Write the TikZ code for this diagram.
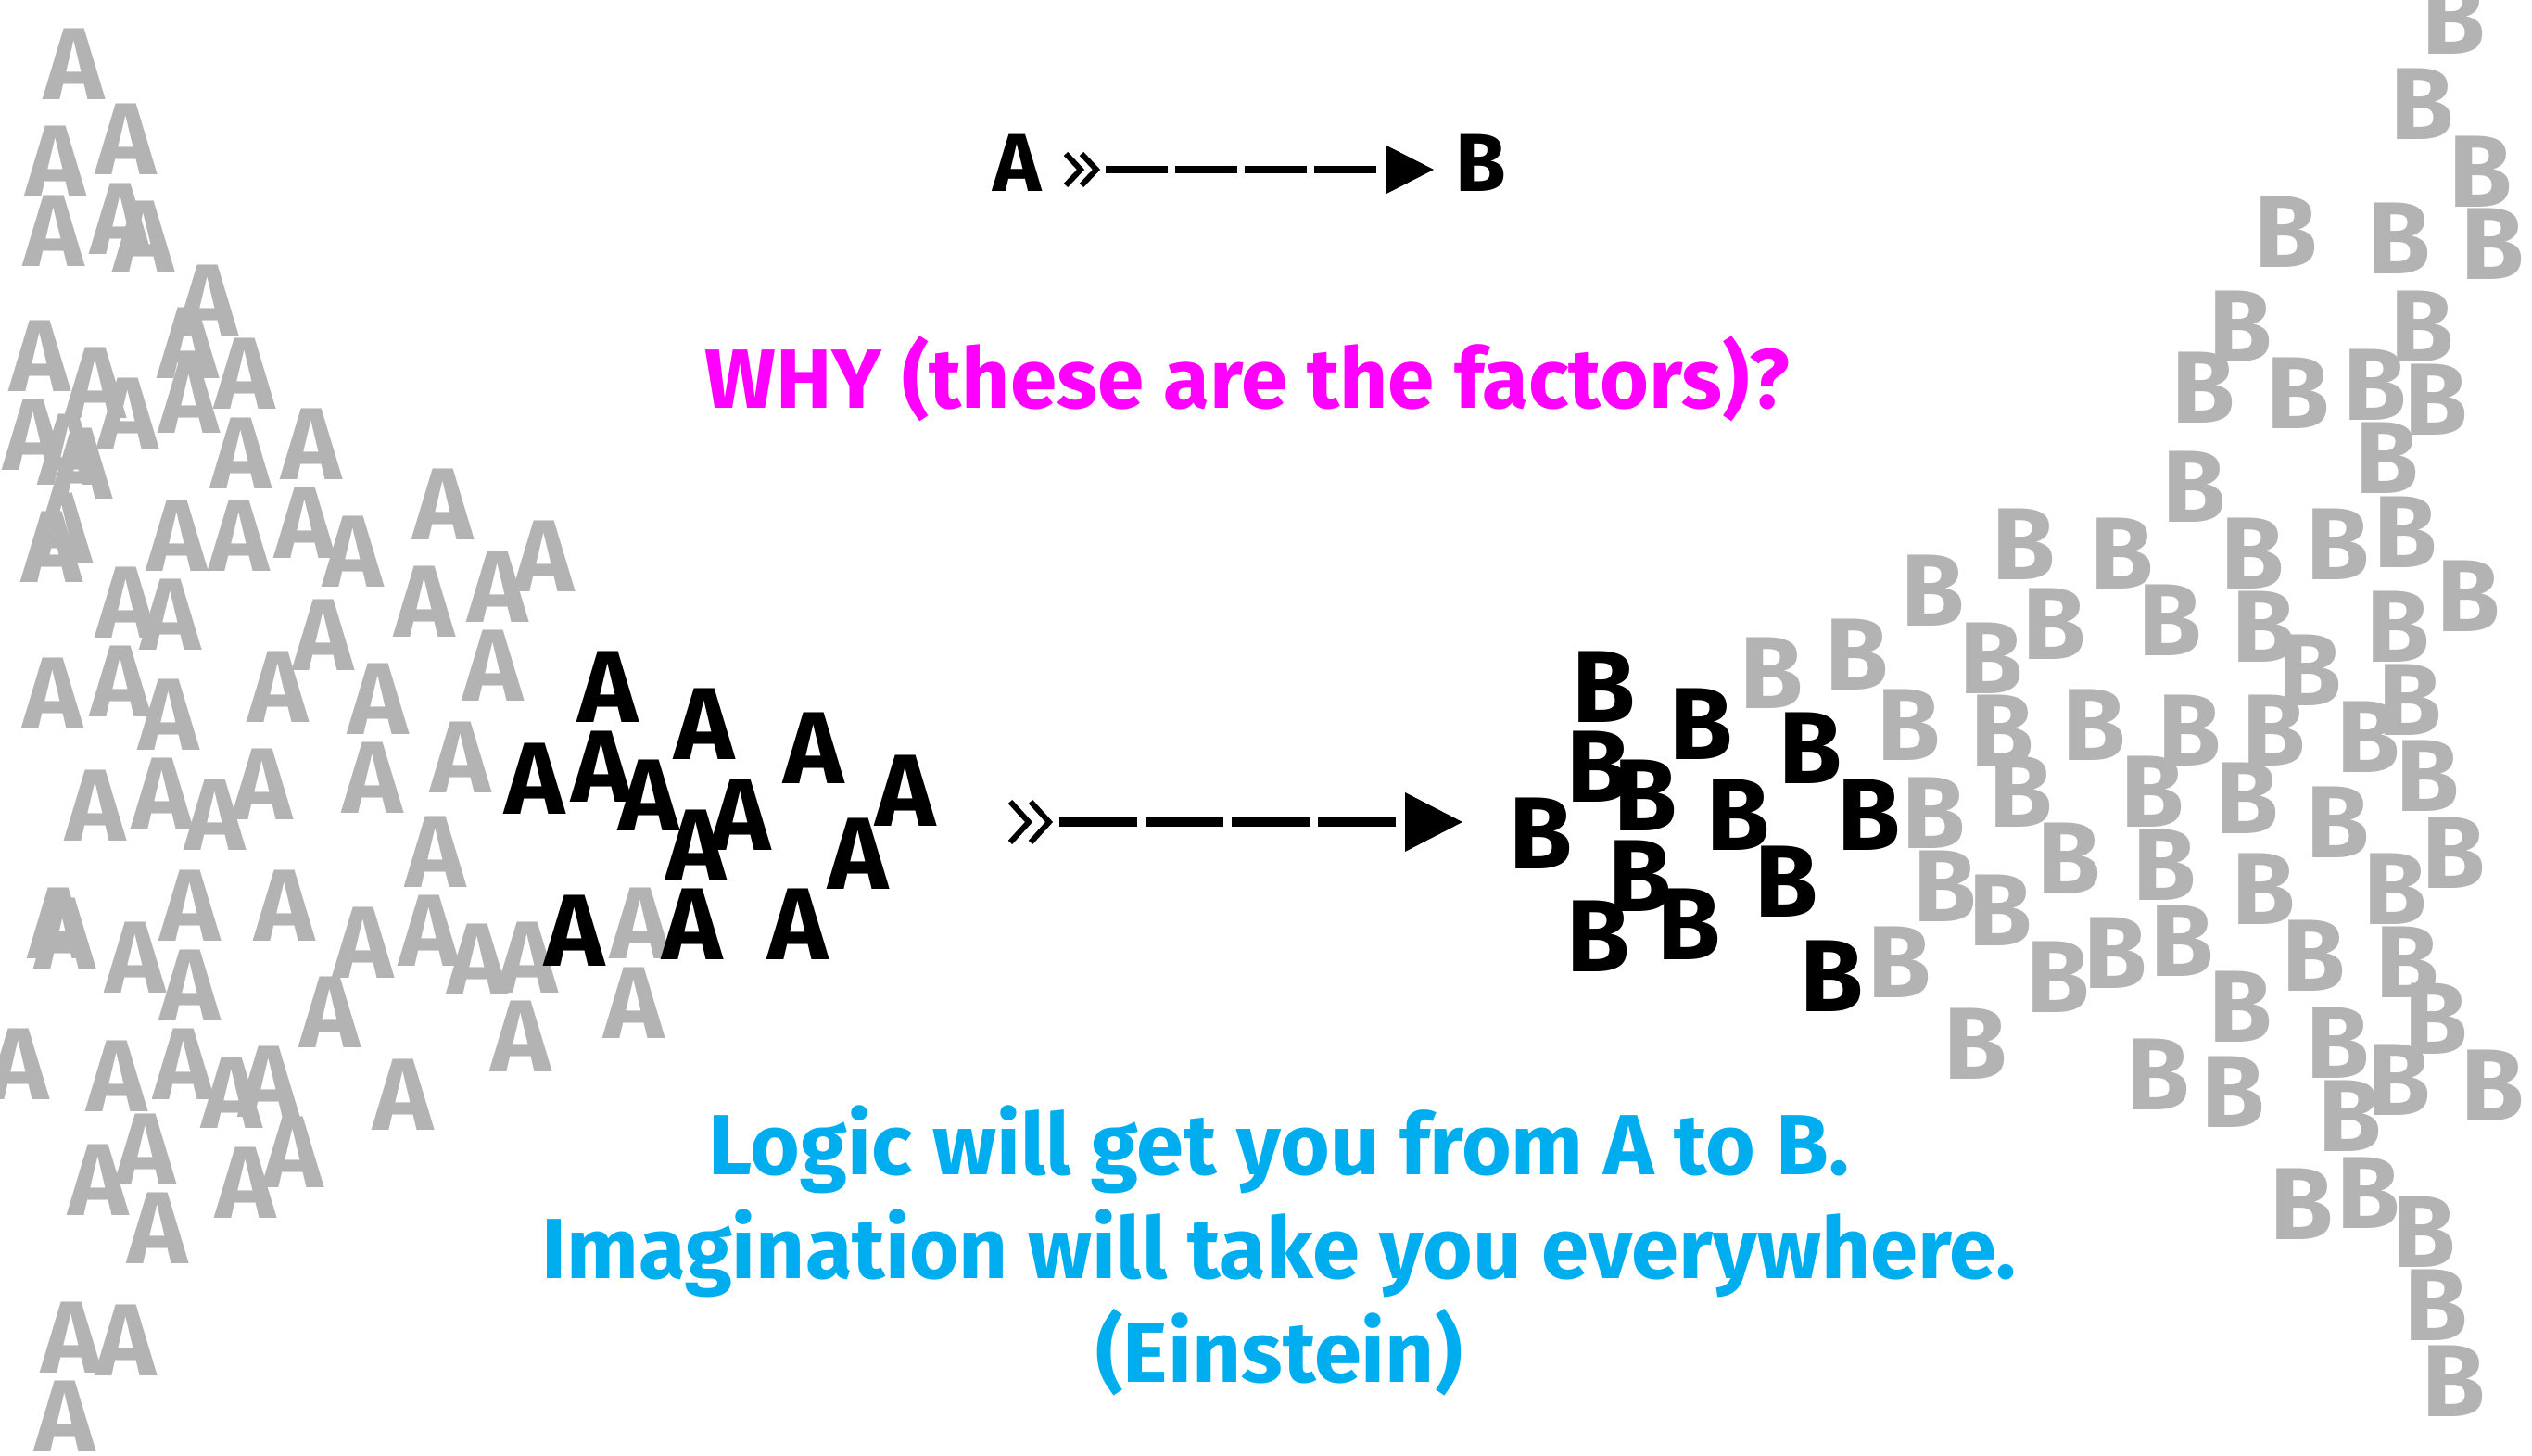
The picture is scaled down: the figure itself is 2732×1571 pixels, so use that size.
\documentclass[tikz,border=0pt]{standalone}
\usepackage{fontspec}
\setmainfont{Fira Sans}
\definecolor{lgray}{RGB}{179,179,179}
\definecolor{qblue}{RGB}{0,174,239}
\definecolor{qmag}{RGB}{255,0,255}
\begin{document}
\begin{tikzpicture}[x=0.01cm,y=-0.01cm,
  letter/.style={inner sep=0pt, anchor=base, font=\fontsize{31.4}{31.4}\selectfont\bfseries},
  ga/.style={letter, text=lgray},
  ka/.style={letter, text=black},
  quote/.style={inner sep=0pt, anchor=base, text=qblue, font=\fontsize{26.2}{26.2}\selectfont\bfseries},
  why/.style={inner sep=0pt, anchor=base, text=qmag, font=\fontsize{25.8}{25.8}\selectfont\bfseries},
  toplbl/.style={inner sep=0pt, anchor=base, font=\fontsize{25.2}{25.2}\selectfont\bfseries},
  chev/.style={line width=0.06cm, miter limit=10},
  tri/.style={fill=black}]
\useasboundingbox (0,0) rectangle (2732,1571);
% gray A cloud
\foreach [count=\i] \x/\y in {80/70, 60/175, 136/151, 58/250, 130/237, 155/256, 224/325, 203/371, 43/385, 264/404, 103/414, 138/447, 204/430, 36/470, 74/486, 88/501, 260/490, 336/480, 478/545, 56/591, 67/571, 191/579, 258/579, 329/565, 381/596, 587/601, 537/634, 458/650, 136/651, 184/664, 349/686, 57/749, 130/736, 182/772, 300/742, 408/755, 532/719, 497/818, 103/870, 175/857, 232/880, 283/847, 402/840, 470/920, 463/1005, 515/1036, 569/1034, 562/1119, 63/997, 70/1008, 146/1034, 205/978, 205/1064, 307/978, 392/1018, 356/1093, 20/1149, 126/1162, 198/1149, 250/1180, 290/1168, 435/1182, 106/1274, 157/1241, 170/1326, 265/1277, 316/1244, 77/1444, 136/1447, 70/1529, 691/997, 684/1083}
  \node[ga] (ga\i) at (\x,\y+38) {A};
% gray B cloud
\foreach [count=\i] \x/\y in {2648/21, 2614/113, 2677/186, 2467/251, 2589/258, 2690/264, 2418/353, 2614/353, 2378/419, 2480/425, 2563/416, 2629/432, 2576/495, 2368/526, 2184/588, 2290/598, 2431/598, 2523/588, 2596/575, 2664/644, 2086/638, 2217/674, 2342/670, 2443/677, 2588/677, 2149/711, 2004/707, 1912/727, 2493/724, 2601/756, 2060/783, 2161/789, 2260/783, 2363/789, 2454/789, 2556/796, 2620/838, 2181/855, 2323/855, 2425/862, 2523/888, 2648/921, 2087/878, 2099/957, 2159/983, 2233/927, 2336/934, 2443/960, 2585/960, 2050/1039, 2221/1055, 2283/1029, 2355/1016, 2497/1032, 2598/1039, 2418/1087, 2132/1127, 2629/1100, 2523/1126, 2329/1160, 2410/1179, 2589/1166, 2536/1205, 2690/1172, 2484/1300, 2556/1288, 2616/1330, 2629/1409, 2648/1491}
  \node[ga] (gb\i) at (\x,\y+38) {B};
% black A cluster
\foreach [count=\i] \x/\y in {656/742, 760/782, 878/808, 577/841, 649/828, 700/859, 799/880, 751/913, 977/854, 926/922, 620/1005, 747/998, 861/998}
  \node[ka] (ka\i) at (\x,\y+38) {A};
% black B cluster
\foreach [count=\i] \x/\y in {1731/742, 1836/782, 1954/808, 1725/828, 1776/859, 1663/900, 1876/880, 2017/880, 1770/946, 1928/952, 1725/1011, 1823/998, 1977/1054}
  \node[ka] (kb\i) at (\x,\y+38) {B};
% top line A >> ---- > B
\node[toplbl] (topA) at (1098,207) {A};
\node[toplbl] (topB) at (1598,207) {B};
\coordinate (ts) at (1193,183);
\coordinate (te) at (1488,183);
\draw[chev] (1150,166) -- (1166,183) -- (1150,200);
\draw[chev] (1167,166) -- (1183,183) -- (1167,200);
\draw[line width=0.086cm, dash pattern=on 0.67cm off 0.08cm] (ts) -- (te);
\fill[tri] (1496,157) -- (1547,183) -- (1496,209) -- cycle;
% middle arrow
\coordinate (ms) at (1143,887);
\coordinate (me) at (1506,887);
\draw[chev] (1090,865) -- (1110,887) -- (1090,909);
\draw[chev] (1112,865) -- (1132,887) -- (1112,909);
\draw[line width=0.107cm, dash pattern=on 0.84cm off 0.09cm] (ms) -- (me);
\fill[tri] (1516,855) -- (1578,887) -- (1516,919) -- cycle;
% texts
\node[why] (why) at (1346,441) {WHY (these are the factors)?};
\node[quote] (q1) at (1380,1268) {Logic will get you from A to B.};
\node[quote] (q2) at (1380,1380) {Imagination will take you everywhere.};
\node[quote] (q3) at (1380,1492) {(Einstein)};
\end{tikzpicture}
\end{document}
